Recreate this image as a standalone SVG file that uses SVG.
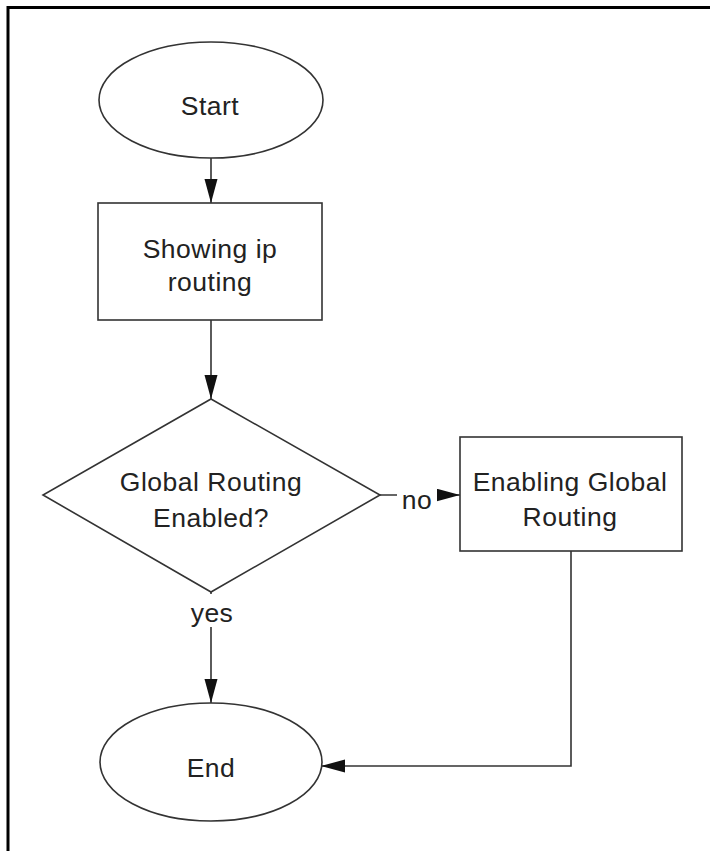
<svg xmlns="http://www.w3.org/2000/svg" width="710" height="851" viewBox="0 0 710 851">
<defs>
<style>
.shape{fill:#fff;stroke:#333;stroke-width:1.6}
.conn{fill:none;stroke:#333;stroke-width:1.6}
.lbl{font-family:"Liberation Sans",Arial,sans-serif;font-size:26.5px;letter-spacing:0.5px;fill:#222;text-anchor:middle}
</style>
<marker id="arr" markerUnits="userSpaceOnUse" markerWidth="26" markerHeight="14" refX="24" refY="6.5" orient="auto">
<path d="M0,0 L24,6.5 L0,13 z" fill="#111"/>
</marker>
</defs>
<rect width="710" height="851" fill="#fff"/>
<path d="M8,851 V7.5 H710" fill="none" stroke="#000" stroke-width="3"/>
<g id="connectors">
<line class="conn" x1="211" y1="158" x2="211" y2="203" marker-end="url(#arr)"/>
<line class="conn" x1="211" y1="320" x2="211" y2="399" marker-end="url(#arr)"/>
<line class="conn" x1="380" y1="495" x2="460" y2="495" marker-end="url(#arr)"/>
<rect x="397" y="482" width="40" height="32" fill="#fff"/>
<text class="lbl" x="417" y="509">no</text>
<line class="conn" x1="211" y1="592" x2="211" y2="703" marker-end="url(#arr)"/>
<rect x="190" y="594" width="44" height="33" fill="#fff"/>
<text class="lbl" x="212" y="622">yes</text>
<polyline class="conn" points="571,551 571,766 321,766" marker-end="url(#arr)"/>
</g>
<g id="start">
<ellipse class="shape" cx="211" cy="100" rx="112" ry="58"/>
<text class="lbl" x="210" y="115">Start</text>
</g>
<g id="show">
<rect class="shape" x="98" y="203" width="224" height="117"/>
<text class="lbl" x="210" y="258">Showing ip</text>
<text class="lbl" x="210" y="291">routing</text>
</g>
<g id="decision">
<polygon class="shape" points="211,399 380,495 211,592 43,495"/>
<text class="lbl" x="211" y="491">Global Routing</text>
<text class="lbl" x="211" y="527">Enabled?</text>
</g>
<g id="enable">
<rect class="shape" x="460" y="437" width="222" height="114"/>
<text class="lbl" x="570" y="491">Enabling Global</text>
<text class="lbl" x="570" y="526">Routing</text>
</g>
<g id="end">
<ellipse class="shape" cx="211" cy="762" rx="111" ry="59"/>
<text class="lbl" x="211" y="777">End</text>
</g>
</svg>
